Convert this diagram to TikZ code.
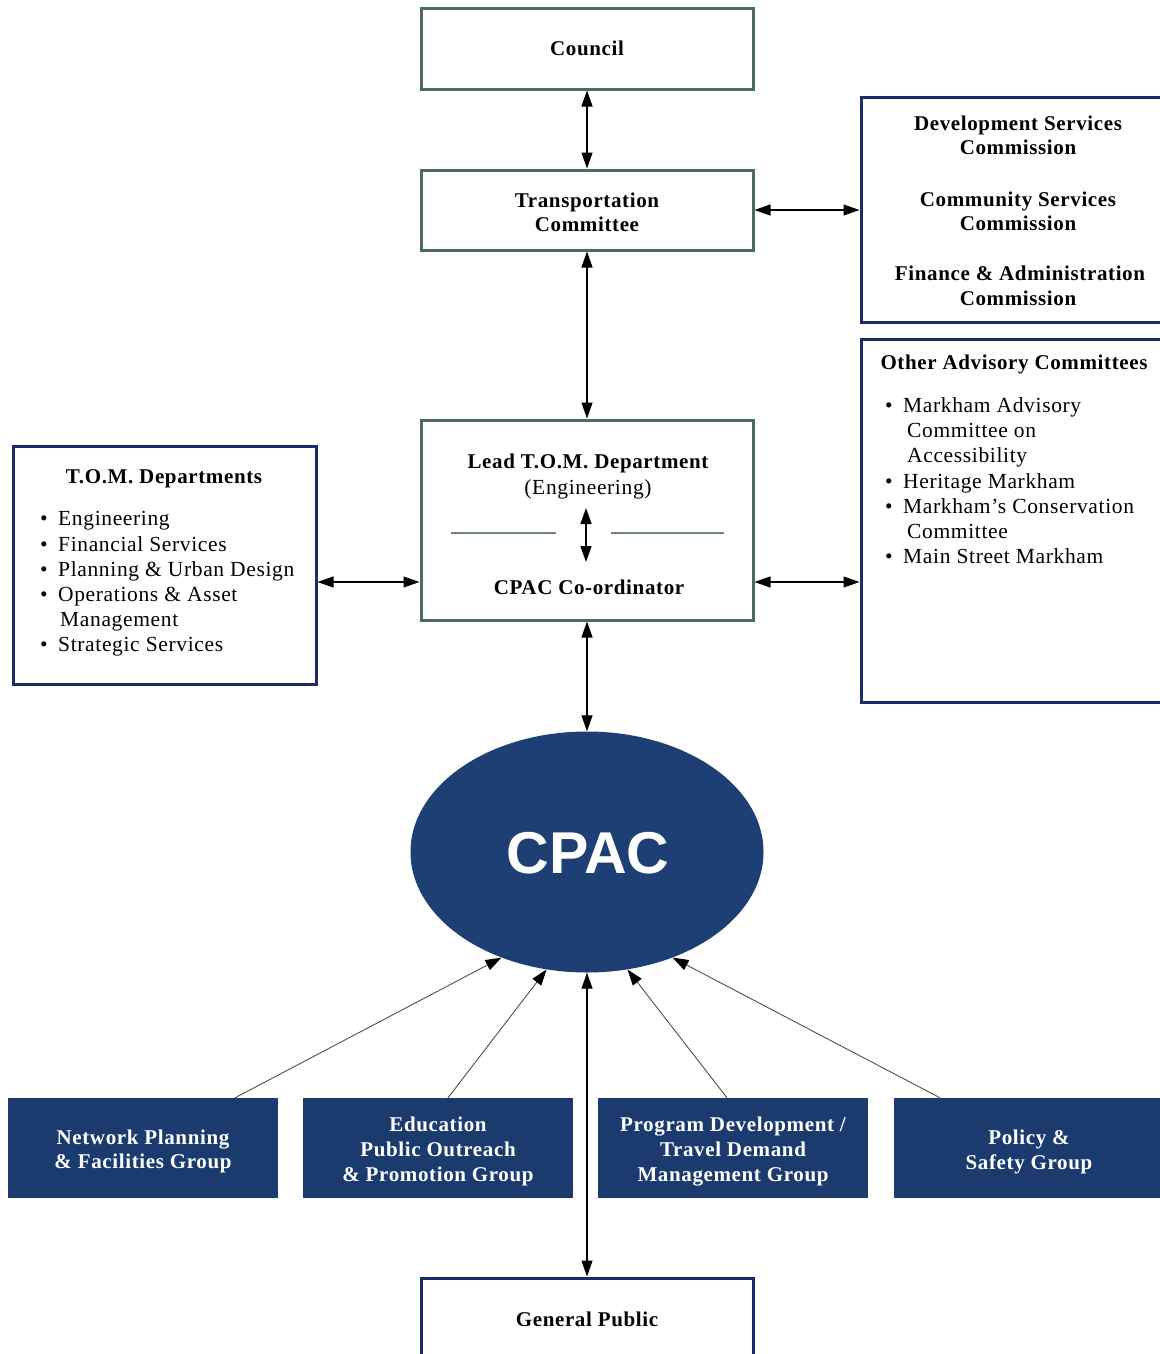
\documentclass[tikz,border=0pt]{standalone}
\usepackage{fontspec}
\setmainfont{Liberation Serif}[LetterSpace=3]
\newfontfamily\cpacfont{Liberation Sans}
\usetikzlibrary{arrows.meta,shapes.geometric}
\definecolor{boxgrey}{HTML}{4B6B63}
\definecolor{navyline}{HTML}{1C2B6A}
\definecolor{navyfill}{HTML}{1B3B6F}
\definecolor{cpacblue}{HTML}{1D3F74}
\definecolor{feedgrey}{HTML}{505050}
\begin{document}
\begin{tikzpicture}[x=1pt,y=-1pt,
  greybox/.style={draw=boxgrey, line width=3pt, fill=white, inner sep=0pt},
  navybox/.style={draw=navyline, line width=3pt, fill=white, inner sep=0pt},
  groupbox/.style={fill=navyfill, inner sep=0pt, minimum width=270pt, minimum height=100pt},
  ttl/.style={anchor=base, inner sep=0pt, font=\fontsize{21}{24}\selectfont\bfseries},
  wttl/.style={ttl, text=white},
  reg/.style={anchor=base, inner sep=0pt, font=\fontsize{21.5}{25}\selectfont},
  item/.style={anchor=base west, inner sep=0pt, font=\fontsize{21.5}{25}\selectfont},
  bul/.style={anchor=base, inner sep=0pt, font=\fontsize{21.5}{25}\selectfont},
  tip/.tip={Triangle[length=16pt,width=11pt,color=black]},
  link/.style={line width=1.3pt, draw=black, tip-tip},
  feed/.style={line width=0.9pt, draw=feedgrey, -tip},
  innerline/.style={line width=2.5pt, draw=boxgrey!80}
]
\useasboundingbox (0,0) rectangle (1159,1354);
\fill[white] (0,0) rectangle (1159,1354);

% ---------- boxes ----------
\node[greybox, minimum width=332pt, minimum height=80pt] (council) at (587,49) {};
\node[greybox, minimum width=332pt, minimum height=80pt] (tc) at (587,210) {};
\node[navybox, minimum width=304pt, minimum height=225pt] (dev) at (1013,210) {};
\node[navybox, minimum width=304pt, minimum height=363pt] (other) at (1013,520.5) {};
\node[greybox, minimum width=332pt, minimum height=200pt] (lead) at (587,520) {};
\node[navybox, minimum width=303pt, minimum height=238pt] (tom) at (164.5,565) {};
\node[ellipse, fill=cpacblue, inner sep=0pt, minimum width=353pt, minimum height=241pt] (cpac) at (587,852) {};
\node[groupbox] (g1) at (142.5,1148) {};
\node[groupbox] (g2) at (438,1148) {};
\node[groupbox] (g3) at (733,1148) {};
\node[groupbox] (g4) at (1029,1148) {};
\node[navybox, minimum width=332pt, minimum height=84pt] (gp) at (587,1320) {};

% ---------- texts ----------
\node[ttl] (councilT) at (587,56) {Council};
\node[ttl] (tcT1) at (587,207) {Transportation};
\node[ttl] (tcT2) at (587,231) {Committee};

\node[ttl] (devT1) at (1018,130) {Development Services};
\node[ttl] (devT2) at (1018,154) {Commission};
\node[ttl] (devT3) at (1018,206) {Community Services};
\node[ttl] (devT4) at (1018,230) {Commission};
\node[ttl] (devT5) at (1020,280) {Finance \& Administration};
\node[ttl] (devT6) at (1018,305) {Commission};

\node[ttl] (leadT1) at (588,468) {Lead T.O.M. Department};
\node[reg] (leadT2) at (588,494) {(Engineering)};
\node[ttl] (leadT3) at (589,594) {CPAC Co-ordinator};

\node[ttl] (tomT) at (164,483) {T.O.M. Departments};
\node[bul] (tomB1) at (44,525) {\textbullet};
\node[item] (tomI1) at (58,525) {Engineering};
\node[bul] (tomB2) at (44,551) {\textbullet};
\node[item] (tomI2) at (58,551) {Financial Services};
\node[bul] (tomB3) at (44,576) {\textbullet};
\node[item] (tomI3) at (58,576) {Planning \& Urban Design};
\node[bul] (tomB4) at (44,601) {\textbullet};
\node[item] (tomI4) at (58,601) {Operations \& Asset};
\node[item] (tomI5) at (60,626) {Management};
\node[bul] (tomB6) at (44,651) {\textbullet};
\node[item] (tomI6) at (58,651) {Strategic Services};

\node[ttl] (othT) at (1014,369) {Other Advisory Committees};
\node[bul] (othB1) at (889,412) {\textbullet};
\node[item] (othI1) at (903,412) {Markham Advisory};
\node[item] (othI2) at (907,437) {Committee on};
\node[item] (othI3) at (907,462) {Accessibility};
\node[bul] (othB4) at (889,488) {\textbullet};
\node[item] (othI4) at (903,488) {Heritage Markham};
\node[bul] (othB5) at (889,513) {\textbullet};
\node[item] (othI5) at (903,513) {Markham’s Conservation};
\node[item] (othI6) at (907,538) {Committee};
\node[bul] (othB7) at (889,563) {\textbullet};
\node[item] (othI7) at (903,563) {Main Street Markham};

\node[anchor=base, inner sep=0pt, text=white, font=\cpacfont\bfseries\fontsize{59}{61}\selectfont] (cpacT) at (588,873) {CPAC};

\node[wttl] (g1T1) at (143,1144) {Network Planning};
\node[wttl] (g1T2) at (143,1168) {\& Facilities Group};
\node[wttl] (g2T1) at (438,1131) {Education};
\node[wttl] (g2T2) at (438,1156) {Public Outreach};
\node[wttl] (g2T3) at (438,1181) {\& Promotion Group};
\node[wttl] (g3T1) at (733,1131) {Program Development /};
\node[wttl] (g3T2) at (733,1156) {Travel Demand};
\node[wttl] (g3T3) at (733,1181) {Management Group};
\node[wttl] (g4T1) at (1029,1144) {Policy \&};
\node[wttl] (g4T2) at (1029,1169) {Safety Group};

\node[ttl] (gpT) at (587,1326) {General Public};

% ---------- inner separator in lead box ----------
\draw[innerline] ([shift={(-136pt,-13pt)}]lead.center) -- ([shift={(-31pt,-13pt)}]lead.center);
\draw[innerline] ([shift={(24pt,-13pt)}]lead.center) -- ([shift={(137pt,-13pt)}]lead.center);
\draw[link] ([shift={(-1pt,12pt)}]lead.center) -- ([shift={(-1pt,-42pt)}]lead.center);

% ---------- connectors ----------
\coordinate (midrow) at (0,582);
\draw[link] (council.south) -- (tc.north);
\draw[link] (tc.south) -- (lead.north);
\draw[link] (tc.east) -- (dev.west);
\draw[link] (tom.east |- midrow) -- (lead.west |- midrow);
\draw[link] (lead.east |- midrow) -- (other.west |- midrow);
\draw[link] (lead.south) -- (cpac.north);
\draw[link] (cpac.south) -- (gp.north);

\draw[feed] ([xshift=92.5pt]g1.north) -- (cpac.231);
\draw[feed] ([xshift=10pt]g2.north) -- (cpac.251);
\draw[feed] ([xshift=-6pt]g3.north) -- (cpac.289);
\draw[feed] ([xshift=-89pt]g4.north) -- (cpac.309);
\end{tikzpicture}
\end{document}
